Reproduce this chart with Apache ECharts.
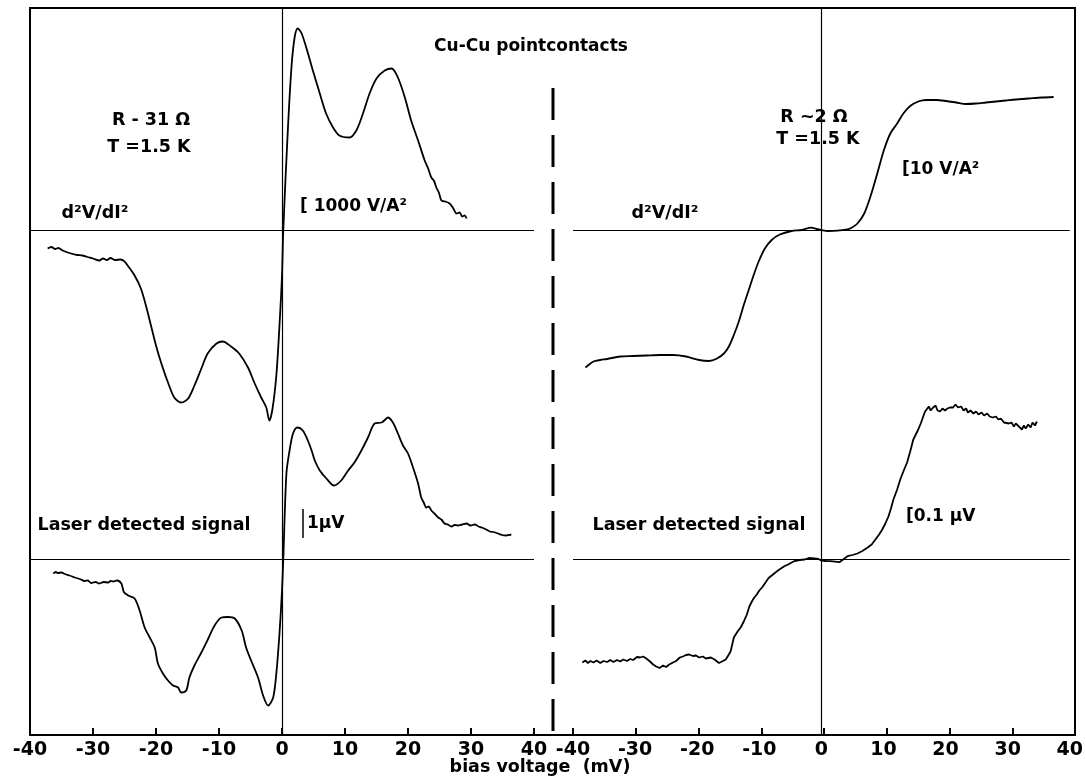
<!DOCTYPE html>
<html><head><meta charset="utf-8">
<script src="https://cdn.jsdelivr.net/npm/echarts@6/dist/echarts.min.js"></script>
<style>html,body{margin:0;padding:0;background:#fff}#c{width:1086px;height:779px}</style>
</head><body><div id="c"></div>
<script>
// bias voltage axis (mV)
const xMin = -40, xMax = 40, xStep = 10;

// Left panel (R ~ 31 Ohm): d2V/dI2 trace, [bias mV, deflection (arb. units)]
const leftD2V = [[-37.2,-18],[-36.6,-16.5],[-36.0,-18.5],[-35.5,-17.5],[-34.8,-20],[-34.0,-22],[-33.2,-23.5],[-32.5,-24.5],[-31.7,-25],[-30.9,-26.5],[-30.0,-28],[-29.0,-30],[-28.4,-28],[-27.8,-29.5],[-27.2,-27.5],[-26.5,-29.5],[-25.6,-29],[-25.0,-31],[-24.5,-35],[-23.4,-45],[-22.4,-58],[-21.6,-75],[-20.8,-95],[-20.0,-115],[-19.2,-132],[-18.1,-152],[-17.1,-167],[-16.0,-172],[-14.9,-168],[-13.9,-155],[-12.8,-138],[-11.8,-123],[-10.4,-113],[-9.4,-111],[-8.1,-116],[-6.8,-123],[-5.4,-137],[-4.4,-152],[-3.3,-167],[-2.5,-177],[-2.0,-190],[-1.5,-178],[-0.9,-145],[-0.4,-95],[0.0,-45],[0.2,0],[0.9,97],[1.5,163],[2.0,193],[2.5,202],[3.05,198],[3.85,183],[4.9,160],[6.0,137],[7.0,117],[8.1,103],[9.1,95],[10.7,93],[11.8,100],[12.85,117],[13.9,137],[15.0,152],[16.3,160],[17.4,162],[18.4,153],[19.5,133],[20.5,110],[21.6,90],[22.65,70],[23.2,62],[23.7,53],[24.1,50],[24.5,43],[24.9,38],[25.3,30],[25.9,29],[26.6,27],[27.2,22],[27.7,17],[28.2,18],[28.6,14],[29.0,15],[29.3,12]];

// Left panel: laser detected signal
const leftLaser = [[-36.3,-14],[-35.9,-12.5],[-35.6,-13.5],[-35.0,-13],[-34.5,-14.5],[-33.7,-16],[-32.9,-18],[-32.1,-19.5],[-31.3,-21.5],[-30.8,-21],[-30.3,-23.5],[-29.6,-22.5],[-29.0,-24],[-28.3,-22.5],[-27.6,-23],[-27.2,-21.5],[-26.8,-22],[-26.2,-21],[-25.5,-24],[-25.1,-32.5],[-24.4,-36],[-23.4,-39],[-22.6,-51],[-21.8,-68],[-21.0,-78],[-20.2,-88],[-19.7,-104],[-18.9,-114],[-18.1,-121],[-17.3,-126],[-16.5,-128],[-16.0,-133],[-15.2,-131],[-14.7,-118],[-13.9,-106],[-12.8,-93],[-11.7,-79],[-10.7,-66],[-9.6,-58],[-8.6,-57.5],[-7.5,-59],[-6.4,-71],[-5.7,-88],[-4.9,-101],[-3.8,-118],[-3.0,-136],[-2.2,-146],[-1.4,-138],[-0.9,-114],[-0.4,-74],[0.0,-31],[0.2,0],[0.7,86],[1.2,109],[1.75,126],[2.45,132],[3.3,129],[4.1,119],[4.7,109],[5.2,99],[6.0,89],[7.05,81],[8.25,74],[9.4,79],[10.5,89],[11.5,97],[12.6,109],[13.65,122],[14.7,136],[15.8,137],[16.4,140],[16.8,142],[17.6,137],[18.4,126],[19.2,114],[20.0,106],[20.8,92],[21.6,76],[22.1,62],[22.5,57],[22.9,52],[23.3,53],[23.7,49],[24.2,46],[24.8,42],[25.3,40],[25.8,36],[26.3,35],[26.9,33],[27.4,34.5],[27.9,34],[28.6,35],[29.3,36],[29.9,34],[30.6,35],[31.2,33],[31.7,32],[32.4,30],[33.0,28],[33.6,27.5],[34.3,26],[34.9,24.5],[35.6,24],[36.0,24.5],[36.4,25]];

// Right panel (R ~ 2 Ohm): d2V/dI2 trace
const rightD2V = [[-38.0,-137],[-37.4,-134],[-36.7,-131],[-35.6,-129.5],[-34.5,-128.5],[-32.4,-126],[-30.3,-125.5],[-28.2,-125],[-26.0,-124.5],[-23.9,-124.5],[-21.8,-126],[-19.7,-129.5],[-18.1,-130.5],[-16.8,-128],[-15.7,-123],[-14.9,-116],[-14.1,-104.5],[-13.3,-91],[-12.5,-74.5],[-11.7,-59.5],[-10.9,-44.5],[-10.1,-31],[-9.1,-18],[-8.0,-9.5],[-6.7,-4],[-4.8,-0.5],[-3.2,0.5],[-1.6,2.8],[-0.8,1.5],[0,0.5],[1.0,-0.5],[2.6,-0.2],[4.2,1.2],[4.7,2.2],[5.8,7],[6.9,17],[7.9,34],[9.0,57],[10.05,80],[11.1,97],[12.2,107],[13.2,117],[14.3,124.5],[15.6,129],[16.9,130.5],[18.5,130.5],[20.1,129.5],[21.7,128],[23.3,126.5],[24.9,127],[26.5,128],[28.1,129],[29.7,130],[31.3,131],[33.4,132],[35.5,133],[37.4,133.5]];

// Right panel: laser detected signal
const rightLaser = [[-38.5,-103],[-38.0,-101],[-37.6,-103.5],[-37.2,-101.5],[-36.7,-103],[-36.2,-101],[-35.6,-103.5],[-35.1,-101.5],[-34.5,-102.5],[-34.0,-100.5],[-33.5,-102.5],[-32.9,-100.5],[-32.4,-102],[-31.9,-100],[-31.3,-101.5],[-30.8,-99.5],[-30.3,-100.5],[-29.7,-97.5],[-29.2,-98],[-28.7,-97],[-28.2,-99],[-27.6,-102],[-27.1,-105],[-26.6,-107],[-26.05,-108.5],[-25.5,-106],[-25.0,-107.5],[-24.5,-105],[-23.9,-103],[-23.4,-101.5],[-22.8,-98],[-22.3,-97],[-21.8,-95.5],[-21.3,-95],[-20.7,-96.5],[-20.2,-96],[-19.7,-98],[-19.1,-97],[-18.6,-99],[-17.8,-98],[-17.2,-100],[-16.5,-103.5],[-16.0,-102],[-15.4,-100],[-14.9,-95],[-14.6,-91.5],[-14.1,-78],[-13.5,-72],[-13.0,-68],[-12.5,-62],[-12.0,-55],[-11.6,-47],[-11.2,-42],[-10.8,-38],[-10.4,-35],[-10.0,-31],[-9.55,-28],[-9.0,-23],[-8.5,-18.5],[-8.0,-16],[-7.5,-13.5],[-7.0,-11],[-6.4,-8.5],[-5.9,-6.5],[-5.35,-5],[-4.8,-3],[-4.3,-1.5],[-3.5,-0.5],[-2.7,0],[-2.0,1.5],[-1.1,1],[-0.5,0.5],[0,-1],[0.8,-1.5],[1.5,-1.7],[2.2,-2.2],[2.9,-2.7],[3.5,0],[4.2,3.3],[5.0,4.5],[5.8,6],[6.6,8.5],[7.4,11.7],[8.1,15],[8.7,20],[9.3,25],[9.8,30],[10.3,36],[10.8,43],[11.2,51],[11.6,60],[12.2,70],[12.7,80],[13.2,88],[13.8,97],[14.3,108],[14.8,120],[15.2,125],[15.6,130],[16.0,136],[16.4,143],[16.7,148],[16.9,150],[17.3,153],[17.6,149],[18.0,152],[18.4,154],[18.7,149],[19.1,148],[19.5,151],[19.9,149],[20.3,151],[20.7,152],[21.2,152],[21.6,155],[22.0,152],[22.5,153],[22.9,149],[23.3,151],[23.6,147],[24.0,149],[24.5,146],[24.9,148],[25.3,145],[25.8,147],[26.2,144],[26.7,146],[27.1,143],[27.6,142],[28.1,143],[28.5,140],[28.9,141],[29.4,137],[29.7,139],[30.2,136],[30.6,137],[31.0,133],[31.3,136],[31.8,133],[32.3,130],[32.6,134],[32.9,131],[33.3,135],[33.7,132],[34.0,137],[34.4,134],[34.7,138]];

// Texts
const title = 'Cu-Cu pointcontacts';
const xAxisName = 'bias voltage  (mV)';
const leftInfo = ['R - 31 Ω', 'T =1.5 K'];
const rightInfo = ['R ~2 Ω', 'T =1.5 K'];
const traceLabel = 'd²V/dI²';
const laserLabel = 'Laser detected signal';
const scaleLabels = ['[ 1000 V/A²', '1μV', '[10 V/A²', '[0.1 μV'];

// ---- layout ----
const FONT = 'DejaVu Sans';
const TOP = 8, BOTTOM = 44, TICK = 7;
// vertical ranges chosen so each trace's zero line sits at its baseline
const upperRange = {min: -504.5, max: 222.5};
const lowerRange = {min: -175.5, max: 551.5};
const unitRange = {min: 0, max: 1};

const chart = echarts.init(document.getElementById('c'), null, {renderer: 'canvas'});

function xAx(gi) {
  return {
    gridIndex: gi, type: 'value', min: xMin, max: xMax, interval: xStep,
    axisLine: {show: true, onZero: false, lineStyle: {color: '#000', width: 2}},
    axisTick: {show: false},
    axisLabel: {show: true, color: '#000', fontSize: 19, fontFamily: FONT, fontWeight: 'bold', margin: 6},
    splitLine: {show: false}
  };
}
// thin strip axes: their split lines form the inward tick marks on the bottom axis
function tickAx(gi) {
  return {
    gridIndex: gi, type: 'value', min: xMin, max: xMax, interval: xStep,
    axisLine: {show: false}, axisTick: {show: false}, axisLabel: {show: false},
    splitLine: {show: true, lineStyle: {color: '#000', width: 2}}
  };
}
function yAx(gi, r) {
  return {gridIndex: gi, type: 'value', min: r.min, max: r.max, show: false, splitLine: {show: false}};
}
const lineStyle = {color: '#000', width: 1.8};
const refLine = {color: '#000', width: 1.2, type: 'solid'};
function mk(arr) {
  return {silent: true, symbol: ['none', 'none'], label: {show: false}, lineStyle: refLine, animation: false, data: arr};
}
function series(xi, yi, data, smooth, marks) {
  return {type: 'line', xAxisIndex: xi, yAxisIndex: yi, data: data, showSymbol: false, symbol: 'none',
    smooth: smooth, lineStyle: lineStyle, markLine: mk(marks), z: 3};
}

function txt(x, y, text, align, size) {
  return {type: 'text', x: x, y: y, z: 10, style: {text: text, fill: '#000', fontSize: size || 17.5, fontFamily: FONT,
    fontWeight: 'bold', textAlign: align || 'center', textVerticalAlign: 'middle'}};
}

const option = {
  animation: false,
  backgroundColor: '#fff',
  grid: [
    {left: 30, width: 504, top: TOP, bottom: BOTTOM},
    {left: 573, width: 502, top: TOP, bottom: BOTTOM},
    {left: 30, right: 11, top: TOP, bottom: BOTTOM, show: true, borderColor: '#000', borderWidth: 2, backgroundColor: 'transparent'},
    {left: 30, width: 504, height: TICK, bottom: BOTTOM},
    {left: 573, width: 502, height: TICK, bottom: BOTTOM}
  ],
  xAxis: [xAx(0), xAx(1), {gridIndex: 2, type: 'value', show: false, min: 0, max: 1}, tickAx(3), tickAx(4)],
  yAxis: [yAx(0, upperRange), yAx(0, lowerRange), yAx(1, upperRange), yAx(1, lowerRange),
          yAx(2, unitRange), yAx(3, unitRange), yAx(4, unitRange)],
  series: [
    series(0, 0, leftD2V, 0.3, [{yAxis: 0}, {xAxis: 0}]),
    series(0, 1, leftLaser, 0.3, [{yAxis: 0}]),
    series(1, 2, rightD2V, 0.3, [{yAxis: 0}, {xAxis: 0}]),
    series(1, 3, rightLaser, false, [{yAxis: 0}])
  ],
  graphic: [
    {type: 'line', z: 10, shape: {x1: 553, y1: 88, x2: 553, y2: 735}, style: {stroke: '#000', lineWidth: 3, lineDash: [32, 15]}},
    {type: 'line', z: 10, shape: {x1: 303, y1: 509, x2: 303, y2: 538}, style: {stroke: '#000', lineWidth: 1.5}},
    txt(531, 47, title, 'center', 17),
    txt(151, 120, leftInfo[0]),
    txt(149, 147, leftInfo[1]),
    txt(95, 213, traceLabel),
    txt(300, 207, scaleLabels[0], 'left', 17),
    txt(814, 117, rightInfo[0]),
    txt(818, 139, rightInfo[1]),
    txt(665, 213, traceLabel),
    txt(902, 170, scaleLabels[2], 'left', 17),
    txt(144, 525, laserLabel),
    txt(307, 524, scaleLabels[1], 'left', 17),
    txt(699, 525, laserLabel),
    txt(906, 517, scaleLabels[3], 'left', 17),
    txt(540, 767, xAxisName, 'center', 17.5)
  ]
};
chart.setOption(option);
</script>
</body></html>
